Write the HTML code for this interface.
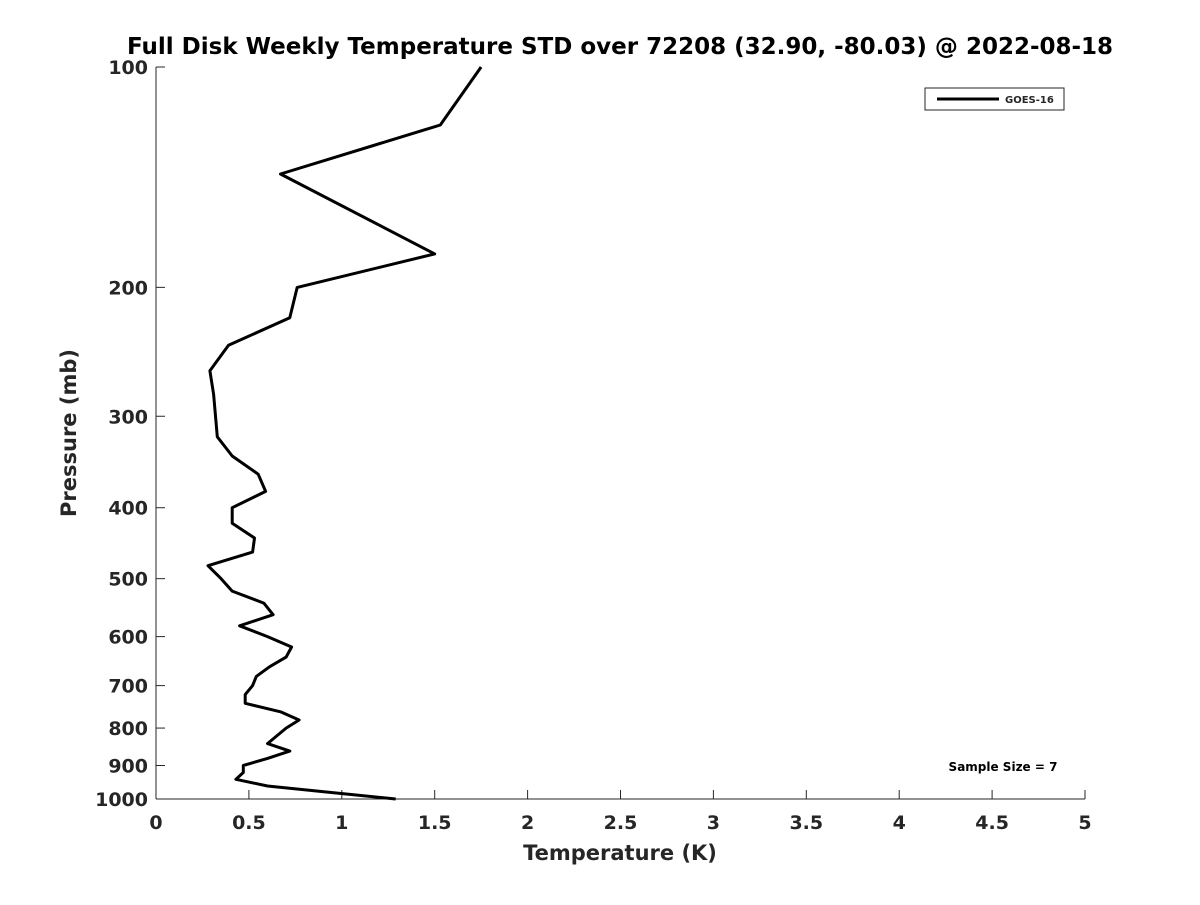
<!DOCTYPE html>
<html><head><meta charset="utf-8"><style>
body{margin:0;background:#fff}
svg text{font-family:"DejaVu Sans","Liberation Sans",sans-serif;font-weight:bold;fill:#262626}
</style></head><body>
<svg width="1200" height="900" viewBox="0 0 1200 900">
<rect width="1200" height="900" fill="#fff"/>
<text x="620" y="54" text-anchor="middle" font-size="23" fill="#000" style="fill:#000">Full Disk Weekly Temperature STD over 72208 (32.90, -80.03) @ 2022-08-18</text>
<g id="axes"></g>
<path id="series" fill="none" stroke="#000" stroke-width="3" stroke-linejoin="round"/>
<g>
<rect x="925" y="88" width="139" height="22" fill="#fff" stroke="#262626" stroke-width="1"/>
<line x1="937" y1="99" x2="999" y2="99" stroke="#000" stroke-width="3"/>
<text x="1005" y="103" font-size="10">GOES-16</text>
</g>
<text x="1003" y="771" text-anchor="middle" font-size="12" style="fill:#000">Sample Size = 7</text>
<text x="620" y="860" text-anchor="middle" font-size="21">Temperature (K)</text>
<text transform="translate(76,433) rotate(-90)" text-anchor="middle" font-size="21">Pressure (mb)</text>
</svg>
<script>
const pressures=[100,120,140,180,200,220,240,260,280,320,340,360,380,400,420,440,460,480,500,520,540,560,580,600,620,640,660,680,700,720,740,760,780,800,820,840,860,880,900,920,940,960,980,1000];
const temps=[1.75,1.53,0.67,1.50,0.76,0.72,0.39,0.29,0.31,0.33,0.41,0.55,0.59,0.41,0.41,0.53,0.52,0.28,0.35,0.41,0.58,0.63,0.45,0.60,0.73,0.70,0.61,0.54,0.52,0.48,0.48,0.67,0.77,0.70,0.65,0.60,0.72,0.60,0.47,0.47,0.43,0.60,0.95,1.29];
const xTicks=[0,0.5,1,1.5,2,2.5,3,3.5,4,4.5,5];
const xTickLabels=["0","0.5","1","1.5","2","2.5","3","3.5","4","4.5","5"];
const yTicks=[100,200,300,400,500,600,700,800,900,1000];
const yTickLabels=["100","200","300","400","500","600","700","800","900","1000"];
const L=156,R=1085,T=67,B=799;
const xs=v=>L+(v-0)/5*(R-L);
const ys=p=>T+(Math.log10(p)-2)*(B-T);
const NS="http://www.w3.org/2000/svg";
const ax=document.getElementById('axes');
function mk(tag,attrs){const e=document.createElementNS(NS,tag);for(const k in attrs)e.setAttribute(k,attrs[k]);ax.appendChild(e);return e;}
let a=mk('line',{x1:L,y1:T,x2:L,y2:B,stroke:'#262626','stroke-width':1});


a=mk('line',{x1:L,y1:B,x2:R,y2:B,stroke:'#262626','stroke-width':1});


xTicks.forEach((v,i)=>{
 const x=xs(v);
 const t=mk('line',{x1:x,y1:B,x2:x,y2:B-9,stroke:'#262626'});
 
 
 const l=mk('text',{x:x,y:B+30,'text-anchor':'middle','font-size':19});
 l.textContent=xTickLabels[i];
 
 
});
yTicks.forEach((p,i)=>{
 const y=ys(p);
 const t=mk('line',{x1:L,y1:y,x2:L+9,y2:y,stroke:'#262626'});
 
 
 const l=mk('text',{x:L-8,y:y+7,'text-anchor':'end','font-size':19});
 l.textContent=yTickLabels[i];
 
 
});
document.getElementById('series').setAttribute('d',pressures.map((p,i)=>(i?'L':'M')+xs(temps[i]).toFixed(1)+','+ys(p).toFixed(1)).join(' '));
</script>
</body></html>
